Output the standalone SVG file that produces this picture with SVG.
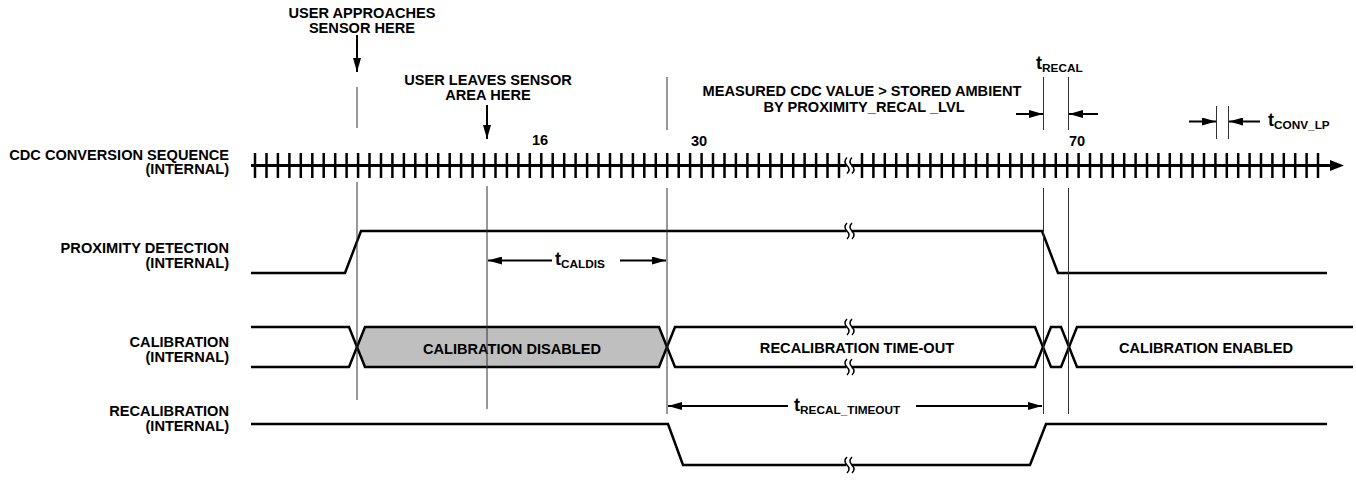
<svg xmlns="http://www.w3.org/2000/svg" xmlns:xlink="http://www.w3.org/1999/xlink" width="1356" height="480" viewBox="0 0 1356 480">
<style>
.lbl{font-family:"Liberation Sans",Arial,sans-serif;font-weight:bold;font-size:14.6px;fill:#000}
.r{text-anchor:end}
.c{text-anchor:middle}
.tt{font-size:18px}
.sub{font-size:11.8px}
.sig{fill:none;stroke:#000;stroke-width:2.5;stroke-linejoin:miter}
.guide{fill:none;stroke:#333;stroke-width:1}
.dim{fill:none;stroke:#000;stroke-width:2;marker-end:url(#ah)}
.tick{fill:none;stroke:#000;stroke-width:2.5}
</style>
<defs>
<marker id="ah" markerUnits="userSpaceOnUse" markerWidth="14" markerHeight="8" refX="14" refY="4" orient="auto"><path d="M0,0 L14,4 L0,8 Z" fill="#000"/></marker>
<g id="brk"><rect x="-2.5" y="-3" width="5" height="6" fill="#fff"/><path d="M-2,-8 Q-6,-4 -2,0 T-2,8 M3,-8 Q-1,-4 3,0 T3,8" fill="none" stroke="#000" stroke-width="1.5"/></g>
</defs>
<rect width="1356" height="480" fill="#fff"/>

<g id="labels">
<text class="lbl r" x="229" y="160">CDC CONVERSION SEQUENCE</text>
<text class="lbl r" x="229" y="174">(INTERNAL)</text>
<text class="lbl r" x="229" y="253">PROXIMITY DETECTION</text>
<text class="lbl r" x="229" y="268">(INTERNAL)</text>
<text class="lbl r" x="229" y="347">CALIBRATION</text>
<text class="lbl r" x="229" y="362">(INTERNAL)</text>
<text class="lbl r" x="229" y="416">RECALIBRATION</text>
<text class="lbl r" x="229" y="431">(INTERNAL)</text>
</g>

<g id="annotations">
<text class="lbl c" x="362" y="18">USER APPROACHES</text>
<text class="lbl c" x="362" y="33">SENSOR HERE</text>
<text class="lbl c" x="488" y="85">USER LEAVES SENSOR</text>
<text class="lbl c" x="488" y="100">AREA HERE</text>
<text class="lbl c" x="862" y="96">MEASURED CDC VALUE &gt; STORED AMBIENT</text>
<text class="lbl c" x="864" y="112">BY PROXIMITY_RECAL _LVL</text>
<text class="lbl c" x="540" y="145">16</text>
<text class="lbl c" x="699" y="145.5">30</text>
<text class="lbl c" x="1077" y="145.5">70</text>
<text class="lbl tt" x="1036" y="69">t<tspan class="sub" dy="2.5">RECAL</tspan></text>
<text class="lbl tt" x="1268" y="126">t<tspan class="sub" dy="2.5">CONV_LP</tspan></text>
<text class="lbl tt" x="555" y="265">t<tspan class="sub" dy="2.5">CALDIS</tspan></text>
<text class="lbl tt" x="794" y="411">t<tspan class="sub" dy="2.5">RECAL_TIMEOUT</tspan></text>
</g>

<g id="cdc-sequence">
<path class="tick" d="M255,153V178M266.5,153V178M277.9,153V178M289.4,153V178M300.8,153V178M312.3,153V178M323.7,153V178M335.2,153V178M346.6,153V178M358.1,153V178M369.5,153V178M381,153V178M392.4,153V178M403.9,153V178M415.3,153V178M426.8,153V178M438.2,153V178M449.7,153V178M461.1,153V178M472.6,153V178M484,153V178M495.5,153V178M506.9,153V178M518.4,153V178M529.8,153V178M541.3,153V178M552.7,153V178M564.2,153V178M575.6,153V178M587.1,153V178M598.5,153V178M610,153V178M621.4,153V178M632.9,153V178M644.3,153V178M655.8,153V178M667.2,153V178M678.7,153V178M690.1,153V178M701.6,153V178M713,153V178M724.5,153V178M735.9,153V178M747.4,153V178M758.8,153V178M770.3,153V178M781.7,153V178M793.2,153V178M804.6,153V178M816.1,153V178M827.5,153V178M839,153V178"/>
<path class="tick" d="M862,153V178M873.4,153V178M884.8,153V178M896.2,153V178M907.6,153V178M919,153V178M930.4,153V178M941.8,153V178M953.2,153V178M964.6,153V178M976,153V178M987.4,153V178M998.8,153V178M1010.2,153V178M1021.6,153V178M1033,153V178M1044.4,153V178M1055.8,153V178M1067.2,153V178M1078.6,153V178M1090,153V178M1101.4,153V178M1112.8,153V178M1124.2,153V178M1135.6,153V178M1147,153V178M1158.4,153V178M1169.8,153V178M1181.2,153V178M1192.6,153V178M1204,153V178M1215.4,153V178M1226.8,153V178M1238.2,153V178M1249.6,153V178M1261,153V178M1272.4,153V178M1283.8,153V178M1295.2,153V178M1306.6,153V178M1318,153V178"/>
<path d="M251,165.5H1332" fill="none" stroke="#000" stroke-width="3"/>
<path d="M1330,160 L1344,165.5 L1330,171 Z" fill="#000"/>
<use xlink:href="#brk" x="849" y="165.5"/>
</g>

<g id="proximity-detection">
<path class="sig" d="M251,273H345L361,231H1042L1058,273H1327"/>
<use xlink:href="#brk" x="849" y="231"/>
</g>

<g id="calibration">
<path d="M357,347 L365,327 H659 L667,347 L659,367 H365 Z" fill="#bfbfbf"/>
<path class="sig" d="M251,327H349L365,367H659L675,327H1035L1051,367H1061L1077,327H1353"/>
<path class="sig" d="M251,367H349L365,327H659L675,367H1035L1051,327H1061L1077,367H1353"/>
<use xlink:href="#brk" x="849" y="327"/>
<use xlink:href="#brk" x="849" y="367"/>
<text class="lbl c" x="512" y="354">CALIBRATION DISABLED</text>
<text class="lbl c" x="857" y="353">RECALIBRATION TIME-OUT</text>
<text class="lbl c" x="1206" y="353">CALIBRATION ENABLED</text>
</g>

<g id="recalibration">
<path class="sig" d="M251,424H668L683,465H1030L1046,424H1327"/>
<use xlink:href="#brk" x="849" y="465"/>
</g>

<g id="connectors">
<path class="guide" d="M357,87V128M357,182V400M487,186V409M667,77V130M667,188V414M1043.5,77V130M1043.5,188V414M1068.5,77V130M1068.5,188V414M1216.5,106V139M1228.5,106V139"/>
<line class="dim" x1="357" y1="35" x2="357" y2="72"/>
<line class="dim" x1="487" y1="105" x2="487" y2="139"/>
<line class="dim" x1="552" y1="260.5" x2="488" y2="260.5"/>
<line class="dim" x1="620" y1="260.5" x2="666" y2="260.5"/>
<line class="dim" x1="788" y1="406" x2="668" y2="406"/>
<line class="dim" x1="916" y1="406" x2="1042" y2="406"/>
<line class="dim" x1="1016" y1="114" x2="1043" y2="114"/>
<line class="dim" x1="1098" y1="114" x2="1069" y2="114"/>
<line class="dim" x1="1189" y1="121.5" x2="1216" y2="121.5"/>
<line class="dim" x1="1260" y1="121.5" x2="1229" y2="121.5"/>
</g>
</svg>
